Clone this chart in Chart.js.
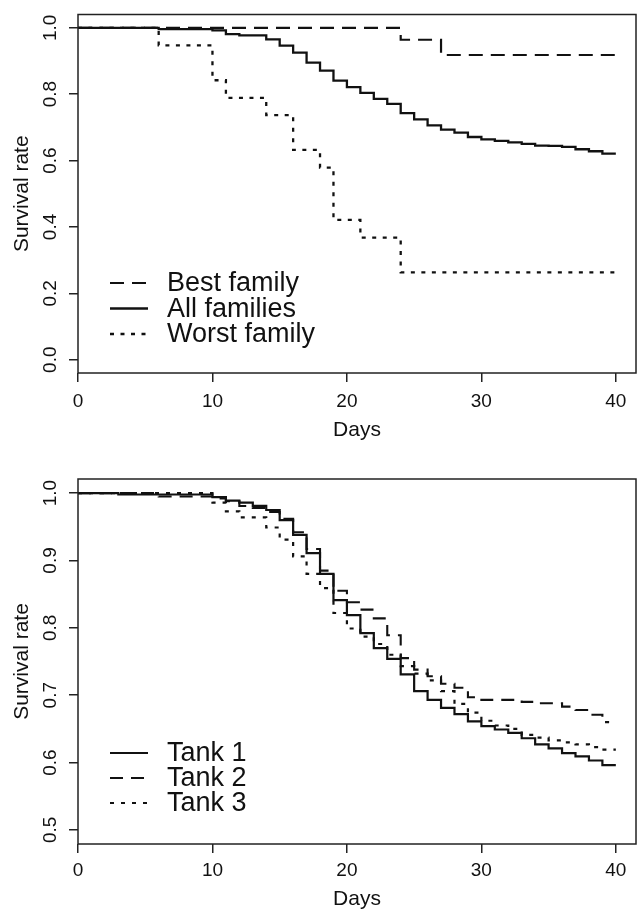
<!DOCTYPE html>
<html>
<head>
<meta charset="utf-8">
<title>Survival rate</title>
<script src="https://cdn.jsdelivr.net/npm/chart.js@4/dist/chart.umd.min.js"></script>
<style>
  body { margin: 0; background: #fff; }
  canvas { display: block; }
</style>
</head>
<body>
<canvas id="topChart" width="638" height="455"></canvas>
<canvas id="bottomChart" width="638" height="455"></canvas>
<script>
// tick values
const xTicks = [0, 10, 20, 30, 40];
const topYTicks = [0, 0.2, 0.4, 0.6, 0.8, 1.0];
const bottomYTicks = [0.5, 0.6, 0.7, 0.8, 0.9, 1.0];

// top panel: families (survival from each day onward)
const bestDays = [0, 24, 27, 40];
const bestSurv = [1.0, 0.964, 0.918, 0.918];

const allDays = [0, 6, 10, 11, 12, 14, 15, 16, 17, 18, 19, 20, 21, 22, 23, 24, 25, 26, 27, 28, 29, 30, 31, 32, 33, 34, 35, 36, 37, 38, 39, 40];
const allSurv = [1.0, 0.996, 0.992, 0.981, 0.977, 0.965, 0.946, 0.925, 0.895, 0.871, 0.841, 0.821, 0.804, 0.786, 0.771, 0.743, 0.724, 0.706, 0.693, 0.684, 0.671, 0.664, 0.659, 0.655, 0.650, 0.645, 0.644, 0.641, 0.634, 0.628, 0.621, 0.621];

const worstDays = [0, 6, 10, 11, 14, 16, 18, 19, 21, 24, 40];
const worstSurv = [1.0, 0.947, 0.842, 0.789, 0.737, 0.632, 0.579, 0.421, 0.368, 0.263, 0.263];

// bottom panel: tanks
const tank1Days = [0, 3, 10, 11, 12, 13, 14, 15, 16, 17, 18, 19, 20, 21, 22, 23, 24, 25, 26, 27, 28, 29, 30, 31, 32, 33, 34, 35, 36, 37, 38, 39, 40];
const tank1Surv = [1.0, 0.998, 0.994, 0.989, 0.986, 0.981, 0.975, 0.960, 0.938, 0.911, 0.880, 0.841, 0.819, 0.792, 0.770, 0.754, 0.731, 0.706, 0.693, 0.681, 0.672, 0.661, 0.654, 0.649, 0.644, 0.636, 0.627, 0.621, 0.614, 0.609, 0.603, 0.596, 0.596];

const tank2Days = [0, 6, 10, 11, 12, 13, 14, 15, 16, 17, 18, 19, 20, 21, 22, 23, 24, 25, 26, 27, 28, 29, 30, 33, 34, 36, 37, 38, 39, 39.5];
const tank2Surv = [1.0, 0.995, 0.992, 0.988, 0.981, 0.978, 0.972, 0.962, 0.942, 0.917, 0.885, 0.855, 0.838, 0.827, 0.814, 0.789, 0.755, 0.738, 0.728, 0.717, 0.711, 0.697, 0.693, 0.690, 0.688, 0.683, 0.678, 0.671, 0.660, 0.660];

const tank3Days = [0, 10, 11, 12, 14, 15, 16, 17, 18, 19, 20, 21, 22, 23, 24, 25, 26, 27, 28, 29, 30, 31, 32, 33, 34, 35, 36, 37, 38, 39, 40];
const tank3Surv = [1.0, 0.986, 0.973, 0.964, 0.949, 0.931, 0.906, 0.880, 0.859, 0.822, 0.799, 0.787, 0.776, 0.760, 0.743, 0.732, 0.722, 0.706, 0.687, 0.674, 0.662, 0.655, 0.650, 0.641, 0.637, 0.633, 0.630, 0.627, 0.623, 0.619, 0.619];

const FONT = '"Liberation Sans", Arial, Helvetica, sans-serif';
const INK = '#111';

function toPoints(days, surv) {
    return days.map((d, i) => ({ x: d, y: surv[i] }));
}

function curve(label, days, surv, dash, width) {
    return {
        label: label,
        data: toPoints(days, surv),
        borderColor: INK,
        borderWidth: width,
        borderDash: dash,
        stepped: 'before',
        pointRadius: 0,
        fill: false
    };
}

// R-style box plus an in-plot legend
const boxAndLegend = {
    id: 'boxAndLegend',
    afterDatasetsDraw(chart, args, opts) {
        const ctx = chart.ctx;
        const a = chart.chartArea;
        ctx.save();
        ctx.strokeStyle = '#222';
        ctx.lineWidth = 1.5;
        ctx.strokeRect(a.left, a.top, a.right - a.left, a.bottom - a.top);

        ctx.font = '27px ' + FONT;
        ctx.textBaseline = 'middle';
        ctx.fillStyle = INK;
        opts.order.forEach((idx, row) => {
            const ds = chart.data.datasets[idx];
            const y = opts.y + row * opts.gap;
            ctx.strokeStyle = INK;
            ctx.lineWidth = ds.borderWidth;
            ctx.setLineDash(ds.borderDash || []);
            ctx.beginPath();
            ctx.moveTo(110, y);
            ctx.lineTo(148, y);
            ctx.stroke();
            ctx.setLineDash([]);
            ctx.fillText(ds.label, 167, y + 1);
        });
        ctx.restore();
    }
};

function makeOptions(yMin, yMax, yTicks, padTop, xAxisHeight, tickPad, daysPad, legend) {
    return {
        responsive: false,
        animation: false,
        layout: { padding: { top: padTop, right: 2, left: 0, bottom: 0 } },
        plugins: {
            legend: { display: false },
            tooltip: { enabled: false },
            boxAndLegend: legend
        },
        scales: {
            x: {
                type: 'linear',
                min: 0,
                max: 41.5,
                afterBuildTicks: s => { s.ticks = xTicks.map(v => ({ value: v })); },
                afterFit: s => { s.height = xAxisHeight; },
                border: { display: false },
                grid: { drawOnChartArea: false, tickLength: 9, color: '#222', lineWidth: 1.5 },
                ticks: { padding: tickPad, color: INK, font: { family: FONT, size: 19, lineHeight: 1 }, maxRotation: 0 },
                title: { display: true, text: 'Days', color: INK, font: { family: FONT, size: 21, lineHeight: 1 }, padding: { top: 0, bottom: daysPad } }
            },
            y: {
                min: yMin,
                max: yMax,
                afterBuildTicks: s => { s.ticks = yTicks.map(v => ({ value: v })); },
                afterFit: s => { s.width = 78; },
                border: { display: false },
                grid: { drawOnChartArea: false, tickLength: 9, color: '#222', lineWidth: 1.5 },
                ticks: {
                    padding: 5,
                    crossAlign: 'center',
                    minRotation: 90,
                    maxRotation: 90,
                    color: INK,
                    font: { family: FONT, size: 19, lineHeight: 1 },
                    callback: v => Number(v).toFixed(1)
                },
                title: { display: true, text: 'Survival rate', color: INK, font: { family: FONT, size: 21, lineHeight: 1 }, padding: { top: 12, bottom: 0 } }
            }
        }
    };
}

new Chart(document.getElementById('topChart').getContext('2d'), {
    type: 'line',
    data: {
        datasets: [
            curve('All families', allDays, allSurv, [], 2.3),
            curve('Best family', bestDays, bestSurv, [14, 8], 2.2),
            curve('Worst family', worstDays, worstSurv, [4, 6.5], 2.3)
        ]
    },
    options: makeOptions(-0.04, 1.04, topYTicks, 9, 82, 10.5, 14.5,
        { order: [1, 0, 2], y: 283, gap: 25.5 }),
    plugins: [boxAndLegend]
});

new Chart(document.getElementById('bottomChart').getContext('2d'), {
    type: 'line',
    data: {
        datasets: [
            curve('Tank 1', tank1Days, tank1Surv, [], 2.2),
            curve('Tank 2', tank2Days, tank2Surv, [13, 8], 2.1),
            curve('Tank 3', tank3Days, tank3Surv, [4, 7], 2.2)
        ]
    },
    options: makeOptions(0.479, 1.021, bottomYTicks, 24, 66, 8.5, 0,
        { order: [0, 1, 2], y: 298, gap: 25 }),
    plugins: [boxAndLegend]
});
</script>
</body>
</html>
